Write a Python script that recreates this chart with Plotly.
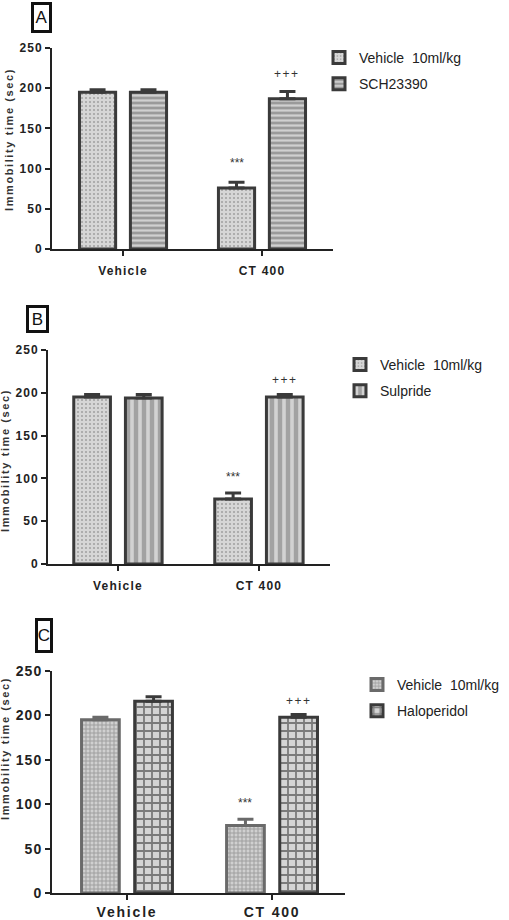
import plotly.graph_objects as go

# ---------------- data ----------------
categories = ["Vehicle", "CT 400"]

a_vehicle = [195, 76]
a_vehicle_err = [3, 7]
a_sch = [195, 187]
a_sch_err = [3, 9]

b_vehicle = [195, 76]
b_vehicle_err = [3, 7]
b_sulpiride = [194, 195]
b_sulpiride_err = [4, 3]

c_vehicle = [195, 76]
c_vehicle_err = [3, 7]
c_haloperidol = [216, 198]
c_haloperidol_err = [5, 3]

y_ticks = [0, 50, 100, 150, 200, 250]
legend_vehicle = "Vehicle  10ml/kg"
legend_a = "SCH23390"
legend_b = "Sulpride"
legend_c = "Haloperidol"
sig_star = "***"
sig_plus = "+++"
y_title = "Immobility time (sec)"
panel_letters = ["A", "B", "C"]

# ---------------- style ----------------
FONT = "Liberation Sans, Arial, sans-serif"
DARK = "#3a3a3a"
BARGAP = 0.267
BARGROUPGAP = 0.29
W, H = 509, 920


def py(p):
    return 1 - p / H


def px(p):
    return p / W


def spaced(t, s):
    return '<span style="letter-spacing:%spx">%s</span>' % (s, t)


fig = go.Figure()


def add_bar(y, err, name, xa, ya, legend, fill, fg, shape, size, solidity, line_color, err_color):
    fig.add_trace(go.Bar(
        x=categories, y=y, name=name,
        xaxis=xa, yaxis=ya, legend=legend, legendgroup=legend + name,
        marker=dict(
            color=fill,
            line=dict(color=line_color, width=3),
            pattern=dict(shape=shape, fgcolor=fg, bgcolor=fill, size=size,
                         solidity=solidity, fillmode="replace"),
        ),
        error_y=dict(type="data", symmetric=False, array=err, arrayminus=[0] * len(err),
                     color=err_color, thickness=3, width=8),
    ))


# Panel A
add_bar(a_vehicle, a_vehicle_err, legend_vehicle, "x", "y", "legend",
        "#d6d6d6", "#a0a0a0", ".", 4, 0.2, DARK, DARK)
add_bar(a_sch, a_sch_err, legend_a, "x", "y", "legend",
        "#9a9a9a", "#d0d0d0", "-", 5, 0.45, DARK, DARK)
# Panel B
add_bar(b_vehicle, b_vehicle_err, legend_vehicle, "x2", "y2", "legend2",
        "#d6d6d6", "#a0a0a0", ".", 4, 0.2, DARK, DARK)
add_bar(b_sulpiride, b_sulpiride_err, legend_b, "x2", "y2", "legend2",
        "#a2a2a2", "#d2d2d2", "|", 8, 0.45, DARK, DARK)
# Panel C
add_bar(c_vehicle, c_vehicle_err, legend_vehicle, "x3", "y3", "legend3",
        "#d0d0d0", "#a0a0a0", "+", 4, 0.45, "#6a6a6a", "#6a6a6a")
add_bar(c_haloperidol, c_haloperidol_err, legend_c, "x3", "y3", "legend3",
        "#d4d4d4", "#7a7a7a", "+", 8, 0.4, DARK, DARK)

# geometry (pixels) per panel: y-axis x, x-axis right end, y of 250, y of 0
panels = [
    dict(xl=52, xr=333, ytop=48, ybot=249, xrange=[-0.511, 1.511], tick=12, cat=12, ls=1.2, so=5),
    dict(xl=48, xr=330, ytop=350, ybot=564, xrange=[-0.496, 1.504], tick=12, cat=12, ls=1.2, so=5),
    dict(xl=52, xr=345, ytop=671, ybot=893, xrange=[-0.517, 1.503], tick=14, cat=14, ls=1.8, so=0),
]

for i, p in enumerate(panels):
    sfx = "" if i == 0 else str(i + 1)
    fig.layout["xaxis" + sfx] = dict(
        domain=[px(p["xl"]), px(p["xr"])], anchor="y" + sfx,
        type="category", range=p["xrange"],
        tickvals=categories, ticktext=[spaced(c, p["ls"]) for c in categories],
        showline=True, linecolor="#222", linewidth=2,
        ticks="outside", ticklen=5, tickwidth=2, tickcolor="#222",
        ticklabelstandoff=p["so"],
        tickfont=dict(family=FONT, size=p["cat"], color="#222", weight="bold"),
        showgrid=False, zeroline=False, fixedrange=True, automargin=False,
    )
    fig.layout["yaxis" + sfx] = dict(
        domain=[py(p["ybot"]), py(p["ytop"])], anchor="x" + sfx,
        range=[0, 250], tickvals=y_ticks,
        ticktext=[spaced(str(v), 1) for v in y_ticks],
        showline=True, linecolor="#222", linewidth=2,
        ticks="outside", ticklen=5, tickwidth=2, tickcolor="#222",
        tickfont=dict(family=FONT, size=p["tick"], color="#222", weight="bold"),
        showgrid=False, zeroline=False, fixedrange=True, automargin=False,
    )

annotations = []
off = (1 - BARGAP) / 4  # center offset of each bar within a group
sig_pos = [(107, 218), (102, 215), (101, 216)]
for i, (ys, yp) in enumerate(sig_pos):
    sfx = "" if i == 0 else str(i + 1)
    annotations.append(dict(x=1 - off, y=ys, xref="x" + sfx, yref="y" + sfx, text=sig_star,
                            xanchor="center", yanchor="middle",
                            showarrow=False, font=dict(family=FONT, size=12, color="#333")))
    annotations.append(dict(x=1 + off, y=yp, xref="x" + sfx, yref="y" + sfx,
                            text=spaced(sig_plus, 1.5),
                            xanchor="center", yanchor="middle",
                            showarrow=False, font=dict(family=FONT, size=12, color="#333")))

# y-axis titles
ytitle_pos = [(9, 140), (5, 461), (5, 749)]
for (xx, yy) in ytitle_pos:
    annotations.append(dict(x=px(xx), y=py(yy), xref="paper", yref="paper",
                            text=spaced(y_title, 1.6), xanchor="center", yanchor="middle",
                            textangle=-90, showarrow=False,
                            font=dict(family=FONT, size=11, color="#333", weight="bold")))

# panel letters: center x, center y, box width, box height
letter_pos = [(41.5, 17.5, 15, 25), (37.5, 319, 17, 22), (44, 635.5, 12, 29)]
for t, (xx, yy, bw, bh) in zip(panel_letters, letter_pos):
    annotations.append(dict(x=px(xx), y=py(yy), xref="paper", yref="paper", text=t,
                            xanchor="center", yanchor="middle", width=bw, height=bh,
                            showarrow=False, bordercolor="#111", borderwidth=3, borderpad=0,
                            bgcolor="white",
                            font=dict(family=FONT, size=17, color="#111")))

leg_common = dict(font=dict(family=FONT, size=14, color="#222"), bgcolor="rgba(0,0,0,0)",
                  traceorder="grouped", tracegroupgap=5, xanchor="left", yanchor="top",
                  itemclick=False, itemdoubleclick=False)

fig.update_layout(
    width=W, height=H,
    margin=dict(l=0, r=0, t=0, b=0, autoexpand=False),
    paper_bgcolor="white", plot_bgcolor="white",
    barmode="group", bargap=BARGAP, bargroupgap=BARGROUPGAP,
    showlegend=True,
    legend=dict(x=px(319), y=py(42), **leg_common),
    legend2=dict(x=px(340), y=py(349), **leg_common),
    legend3=dict(x=px(357), y=py(669), **leg_common),
    annotations=annotations,
)

fig.write_html("out.html", config={"displayModeBar": False},
               post_script="document.body.style.margin='0px';")
